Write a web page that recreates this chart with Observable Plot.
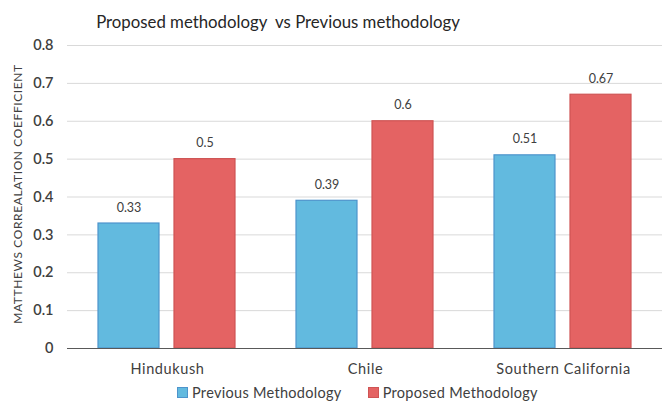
<!DOCTYPE html>
<html><head><meta charset="utf-8">
<script src="https://cdn.jsdelivr.net/npm/d3@7"></script>
<script src="https://cdn.jsdelivr.net/npm/@observablehq/plot@0.6"></script>
<style>
body{margin:0;background:#fff;font-family:Lato,"Open Sans",sans-serif;}
#wrap{position:relative;width:662px;height:404px;overflow:hidden;}
#title{position:absolute;left:0;top:11px;width:556px;text-align:center;font-size:16.8px;color:#262626;white-space:pre;}
.layer{position:absolute;left:0;top:40px;}
#ylab{position:absolute;left:17px;top:194px;transform:translate(-50%,-50%) rotate(-90deg);font-size:12px;letter-spacing:0.6px;color:#404040;white-space:nowrap;}
#legend{position:absolute;top:384px;left:177px;font-size:14.5px;letter-spacing:0.3px;color:#404040;display:flex;gap:26px;}
#legend span.it{display:flex;align-items:center;gap:4px;}
#legend i{display:inline-block;width:9px;height:9px;}
#bg svg g[aria-label="y-axis tick label"] text, #bg svg g[aria-label="y-axis"] text{font-weight:600;}
#fg svg g[aria-label="fx-axis tick label"] text, #fg svg g[aria-label="fx-axis"] text{letter-spacing:0.6px;}
</style></head>
<body><div id="wrap">
<div id="title">Proposed methodology  vs Previous methodology</div>
<div id="bg" class="layer"></div>
<div id="fg" class="layer"></div>
<div id="ylab">MATTHEWS CORREALATION COEFFICIENT</div>
<div id="legend"></div>
</div>
<script>
const categories = ["Hindukush", "Chile", "Southern California"];
const series = ["Previous Methodology", "Proposed Methodology"];
const previous = [0.33, 0.39, 0.51];
const proposed = [0.5, 0.6, 0.67];
const yTicks = [0, 0.1, 0.2, 0.3, 0.4, 0.5, 0.6, 0.7, 0.8];
const fills = ["#62badf", "#e46363"];
const strokes = ["#4d94cc", "#cf5454"];

const data = [];
categories.forEach((c, i) => {
  data.push({cat: c, series: series[0], value: previous[i]});
  data.push({cat: c, series: series[1], value: proposed[i]});
});

const common = {
  width: 662, height: 364,
  marginLeft: 67, marginRight: 0, marginTop: 5, marginBottom: 56,
  style: {fontFamily: "Lato, sans-serif", color: "#404040", background: "transparent", overflow: "visible"}
};

const bg = Plot.plot({
  ...common,
  style: {...common.style, fontSize: "14.5px"},
  x: {axis: null},
  y: {domain: [0, 0.8], ticks: yTicks, tickSize: 0, tickPadding: 14, label: null, tickFormat: d => String(d)},
  marks: [
    Plot.ruleY(yTicks.slice(1), {stroke: "#d9d9d9", strokeOpacity: 1})
  ]
});
document.getElementById("bg").appendChild(bg);

const fg = Plot.plot({
  ...common,
  style: {...common.style, fontSize: "14.5px"},
  fx: {domain: categories, paddingInner: 0.305, paddingOuter: 0.1525, label: null, axis: "bottom", tickSize: 0, tickPadding: 15},
  x: {domain: series, paddingInner: 0.195, paddingOuter: 0, axis: null},
  y: {domain: [0, 0.8], axis: null},
  color: {domain: series, range: fills},
  marks: [
    Plot.barY(data, {fx: "cat", x: "series", y: "value", fill: "series", stroke: d => d.series === series[0] ? strokes[0] : strokes[1], strokeWidth: 1.2}),
    Plot.text(data, {fx: "cat", x: "series", y: "value", text: d => String(d.value), dy: -16, fontSize: 12.5, fill: "#404040"})
  ]
});
document.getElementById("fg").appendChild(fg);

const base = Plot.plot({
  ...common,
  x: {axis: null},
  y: {domain: [0, 0.8], axis: null},
  marks: [Plot.ruleY([0], {stroke: "#595959", strokeWidth: 1.2})]
});
const bd = document.createElement("div");
bd.className = "layer";
bd.appendChild(base);
document.getElementById("wrap").appendChild(bd);

const lg = document.getElementById("legend");
series.forEach((s, i) => {
  const it = document.createElement("span");
  it.className = "it";
  it.innerHTML = `<i style="background:${fills[i]};border:1px solid ${strokes[i]}"></i>${s}`;
  lg.appendChild(it);
});
</script>
</body></html>
